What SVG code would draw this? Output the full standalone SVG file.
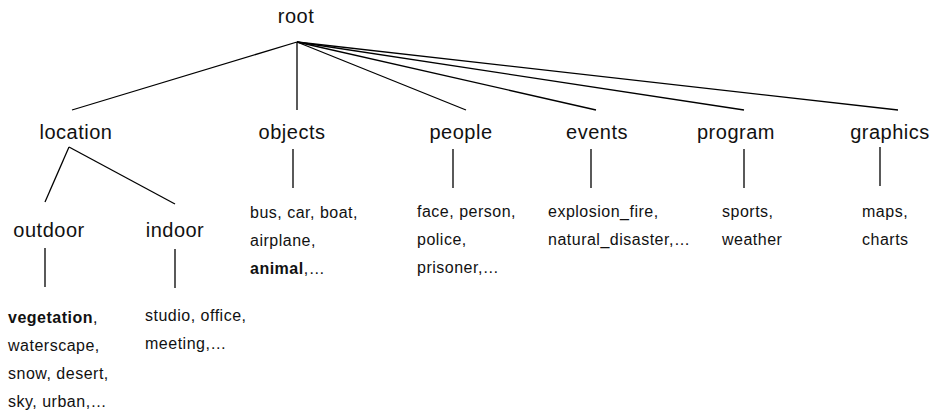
<svg xmlns="http://www.w3.org/2000/svg" width="937" height="414" viewBox="0 0 937 414">
<style>
  .node { font-family: "Liberation Sans", Arial, sans-serif; font-size: 20px; letter-spacing: 0.5px; fill: #111; text-anchor: middle; }
  .leaf { font-family: "Liberation Sans", Arial, sans-serif; font-size: 16px; letter-spacing: 0.5px; fill: #111; }
  .b { font-weight: bold; }
  .edge { stroke: #000; stroke-width: 1.3; fill: none; }
</style>
<rect width="937" height="414" fill="#fff"/>
<g id="connectors">
  <line class="edge" x1="297" y1="42" x2="72" y2="110"/>
  <line class="edge" x1="297" y1="42" x2="297" y2="110"/>
  <line class="edge" x1="297" y1="42" x2="466" y2="110"/>
  <line class="edge" x1="297" y1="42" x2="596" y2="110"/>
  <line class="edge" x1="297" y1="42" x2="744" y2="110"/>
  <line class="edge" x1="297" y1="42" x2="898" y2="110"/>
  <line class="edge" x1="69" y1="147" x2="45" y2="202"/>
  <line class="edge" x1="69" y1="147" x2="175" y2="204"/>
  <line class="edge" x1="45" y1="248" x2="45" y2="287"/>
  <line class="edge" x1="175" y1="249" x2="175" y2="288"/>
  <line class="edge" x1="293" y1="149" x2="293" y2="188"/>
  <line class="edge" x1="453" y1="149" x2="453" y2="188"/>
  <line class="edge" x1="591" y1="149" x2="591" y2="188"/>
  <line class="edge" x1="744" y1="149" x2="744" y2="188"/>
  <line class="edge" x1="880" y1="147" x2="880" y2="186"/>
</g>
<g id="root"><text class="node" x="296" y="23">root</text></g>
<g id="location"><text class="node" x="76" y="139">location</text></g>
<g id="objects"><text class="node" x="292" y="139">objects</text></g>
<g id="people"><text class="node" x="461" y="139">people</text></g>
<g id="events"><text class="node" x="597" y="139">events</text></g>
<g id="program"><text class="node" x="736" y="139">program</text></g>
<g id="graphics"><text class="node" x="890" y="139">graphics</text></g>
<g id="outdoor"><text class="node" x="49" y="237">outdoor</text></g>
<g id="indoor"><text class="node" x="175" y="237">indoor</text></g>
<g id="outdoor-leaves">
  <text class="leaf" x="8" y="323"><tspan class="b">vegetation</tspan>,</text>
  <text class="leaf" x="8" y="351">waterscape,</text>
  <text class="leaf" x="8" y="379">snow, desert,</text>
  <text class="leaf" x="8" y="407">sky, urban,…</text>
</g>
<g id="indoor-leaves">
  <text class="leaf" x="145" y="321">studio, office,</text>
  <text class="leaf" x="145" y="349">meeting,…</text>
</g>
<g id="objects-leaves">
  <text class="leaf" x="250" y="218">bus, car, boat,</text>
  <text class="leaf" x="250" y="246">airplane,</text>
  <text class="leaf" x="250" y="274"><tspan class="b">animal</tspan>,…</text>
</g>
<g id="people-leaves">
  <text class="leaf" x="417" y="217">face, person,</text>
  <text class="leaf" x="417" y="245">police,</text>
  <text class="leaf" x="417" y="273">prisoner,…</text>
</g>
<g id="events-leaves">
  <text class="leaf" x="548" y="217">explosion_fire,</text>
  <text class="leaf" x="548" y="245">natural_disaster,…</text>
</g>
<g id="program-leaves">
  <text class="leaf" x="722" y="217">sports,</text>
  <text class="leaf" x="722" y="245">weather</text>
</g>
<g id="graphics-leaves">
  <text class="leaf" x="862" y="217">maps,</text>
  <text class="leaf" x="862" y="245">charts</text>
</g>
</svg>
